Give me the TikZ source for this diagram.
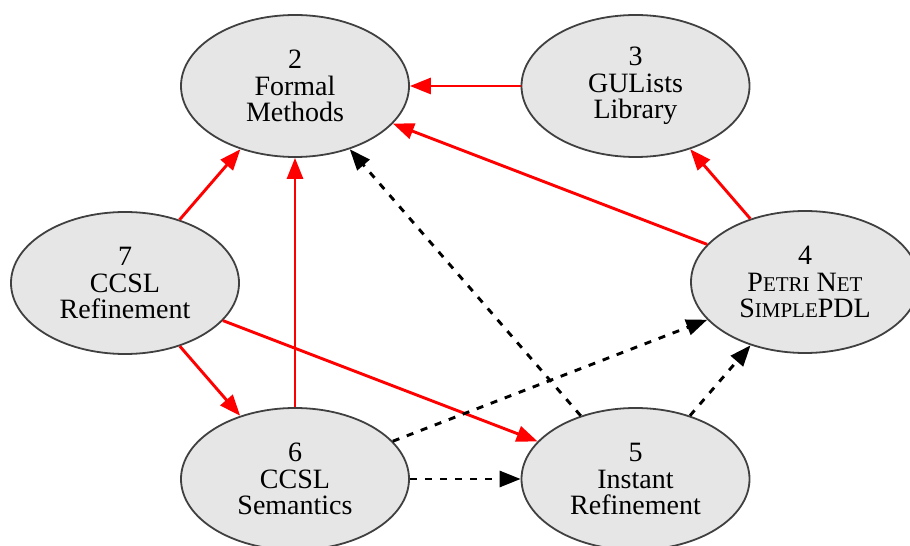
\documentclass[tikz,border=0pt]{standalone}
\usepackage{fontspec}
\setmainfont{Liberation Serif}
\usetikzlibrary{shapes.geometric,arrows.meta}
\newcommand\mysc[1]{{\fontsize{21}{21}\selectfont #1}}
\definecolor{nodefill}{HTML}{E6E6E6}
\definecolor{nodeline}{HTML}{404040}
\tikzset{
  ell/.style={ellipse, draw=nodeline, line width=1.8pt, fill=nodefill,
    minimum width=228pt, minimum height=142pt, inner sep=0pt, align=center,
    font=\fontsize{28}{26.5}\selectfont},
  redarr/.style={draw=red, line width=2.9pt, -{Triangle[length=21pt,width=16pt]}, red},
  blkarr/.style={draw=black, line width=2.9pt, dash pattern=on 7pt off 8pt, -{Triangle[length=21pt,width=16pt]}}
}
\begin{document}
\begin{tikzpicture}[x=1pt,y=1pt]
\useasboundingbox (0,0) rectangle (910,546);
\node[ell] (n2) at (295,460) {2\\Formal\\Methods};
\node[ell] (n3) at (635.5,460) {3\\GULists\\Library};
\node[ell] (n7) at (125,263) {7\\CCSL\\Refinement};
\node[ell] (n4) at (805,264) {4\\P\mysc{ETRI} N\mysc{ET}\\S\mysc{IMPLE}PDL};
\node[ell] (n6) at (295,67) {6\\CCSL\\Semantics};
\node[ell] (n5) at (635.5,67) {5\\Instant\\Refinement};
\draw[redarr] (n3) -- (n2);
\draw[redarr] (n4) -- (n2);
\draw[redarr] (n4) -- (n3);
\draw[redarr] (n7) -- (n2);
\draw[redarr] (n7) -- (n6);
\draw[redarr] (n7) -- (n5);
\draw[redarr] (n6) -- (n2);
\draw[blkarr] (n5) -- (n2);
\draw[blkarr] (n5) -- (n4);
\draw[blkarr] (n6) -- (n4);
\draw[blkarr] (n6) -- (n5);
\end{tikzpicture}
\end{document}
